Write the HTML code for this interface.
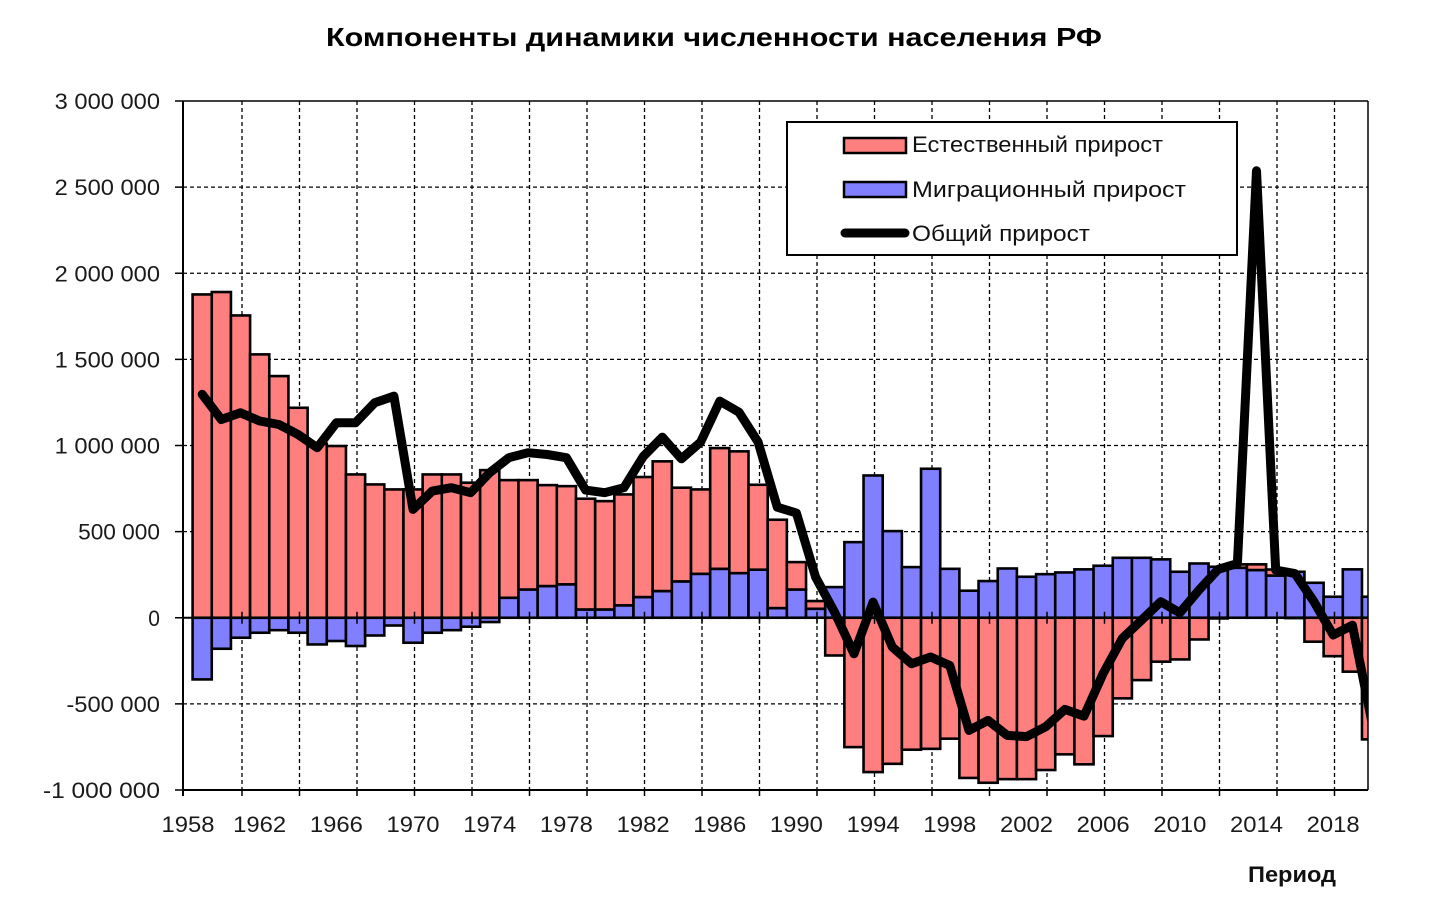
<!DOCTYPE html>
<html><head><meta charset="utf-8"><style>
html,body{margin:0;padding:0;background:#fff;}
svg{display:block;font-family:"Liberation Sans","DejaVu Sans",sans-serif;}
</style></head><body>
<svg id="c" width="1429" height="897" viewBox="0 0 1429 897" xmlns="http://www.w3.org/2000/svg">
<defs><clipPath id="pa"><rect x="183" y="101" width="1185" height="689"/></clipPath></defs>
<rect width="1429" height="897" fill="#fff"/>
<text x="714" y="46" text-anchor="middle" font-size="26" font-weight="bold" fill="#000" textLength="776" lengthAdjust="spacingAndGlyphs">Компоненты динамики численности населения РФ</text>
<g id="grid"></g>
<g id="bars" clip-path="url(#pa)"></g>
<g id="axes"></g>
<polyline id="ln" fill="none" stroke="#000" stroke-width="9" stroke-linejoin="round" stroke-linecap="round" clip-path="url(#pa)"/>
<g id="legend">
<rect x="787" y="122" width="450" height="133" fill="#fff" stroke="#000" stroke-width="2"/>
<rect x="844" y="138" width="62" height="15" fill="#ff7f7f" stroke="#000" stroke-width="2.5"/>
<rect x="844" y="182" width="62" height="15" fill="#7f7fff" stroke="#000" stroke-width="2.5"/>
<line x1="845" y1="233" x2="905" y2="233" stroke="#000" stroke-width="9" stroke-linecap="round"/>
<text x="912" y="152" font-size="22" fill="#111" textLength="251" lengthAdjust="spacingAndGlyphs">Естественный прирост</text>
<text x="912" y="197" font-size="22" fill="#111" textLength="274" lengthAdjust="spacingAndGlyphs">Миграционный прирост</text>
<text x="912" y="241" font-size="22" fill="#111" textLength="178" lengthAdjust="spacingAndGlyphs">Общий прирост</text>
</g>
<text x="1336" y="882" text-anchor="end" font-size="22" font-weight="bold" fill="#111" textLength="88" lengthAdjust="spacingAndGlyphs">Период</text>
</svg>
<script>
var NS="http://www.w3.org/2000/svg";
function el(p,t,a,txt){var e=document.createElementNS(NS,t);for(var k in a)e.setAttribute(k,a[k]);if(txt!==undefined)e.textContent=txt;p.appendChild(e);return e;}
var X0=183,X1=1368,Y0=101,Y1=790,ZERO=617.75,PX=172.25,STEP=19.17;
function yv(v){return ZERO-v*PX;}
function xc(yr){return X0+(yr-1958)*STEP;}
var nat={1959:1.877,1960:1.891,1961:1.755,1962:1.529,1963:1.403,1964:1.219,1965:1.01,1966:0.997,1967:0.832,1968:0.774,1969:0.745,1970:0.745,1971:0.832,1972:0.832,1973:0.784,1974:0.857,1975:0.799,1976:0.799,1977:0.770,1978:0.764,1979:0.691,1980:0.677,1981:0.716,1982:0.817,1983:0.908,1984:0.755,1985:0.745,1986:0.985,1987:0.966,1988:0.772,1989:0.569,1990:0.323,1991:0.097,1992:-0.219,1993:-0.751,1994:-0.896,1995:-0.848,1996:-0.766,1997:-0.761,1998:-0.702,1999:-0.930,2000:-0.958,2001:-0.937,2002:-0.937,2003:-0.884,2004:-0.793,2005:-0.851,2006:-0.687,2007:-0.468,2008:-0.362,2009:-0.255,2010:-0.242,2011:-0.126,2012:-0.004,2013:0.31,2014:0.31,2015:0.28,2016:-0.002,2017:-0.139,2018:-0.223,2019:-0.313,2020:-0.706};
var mig={1959:-0.358,1960:-0.18,1961:-0.116,1962:-0.087,1963:-0.072,1964:-0.087,1965:-0.155,1966:-0.135,1967:-0.164,1968:-0.103,1969:-0.045,1970:-0.145,1971:-0.087,1972:-0.072,1973:-0.052,1974:-0.025,1975:0.116,1976:0.164,1977:0.184,1978:0.194,1979:0.048,1980:0.048,1981:0.072,1982:0.12,1983:0.155,1984:0.211,1985:0.255,1986:0.284,1987:0.259,1988:0.279,1989:0.056,1990:0.164,1991:0.052,1992:0.178,1993:0.439,1994:0.826,1995:0.503,1996:0.294,1997:0.865,1998:0.284,1999:0.157,2000:0.213,2001:0.286,2002:0.238,2003:0.253,2004:0.263,2005:0.281,2006:0.302,2007:0.348,2008:0.348,2009:0.339,2010:0.267,2011:0.315,2012:0.296,2013:0.290,2014:0.277,2015:0.245,2016:0.267,2017:0.203,2018:0.122,2019:0.281,2020:0.122};
var tot={1959:1.297,1960:1.151,1961:1.19,1962:1.142,1963:1.122,1964:1.064,1965:0.987,1966:1.132,1967:1.132,1968:1.248,1969:1.287,1970:0.629,1971:0.735,1972:0.755,1973:0.726,1974:0.842,1975:0.929,1976:0.958,1977:0.948,1978:0.929,1979:0.741,1980:0.726,1981:0.755,1982:0.935,1983:1.049,1984:0.923,1985:1.02,1986:1.258,1987:1.194,1988:1.02,1989:0.642,1990:0.608,1991:0.236,1992:0.03,1993:-0.209,1994:0.091,1995:-0.17,1996:-0.267,1997:-0.228,1998:-0.277,1999:-0.654,2000:-0.596,2001:-0.683,2002:-0.69,2003:-0.633,2004:-0.532,2005:-0.571,2006:-0.323,2007:-0.12,2008:-0.014,2009:0.093,2010:0.029,2011:0.161,2012:0.281,2013:0.315,2014:2.595,2015:0.277,2016:0.257,2017:0.093,2018:-0.1,2019:-0.043,2020:-0.594};
var g=document.getElementById('grid'),b=document.getElementById('bars'),ax=document.getElementById('axes');
var labs=["3 000 000","2 500 000","2 000 000","1 500 000","1 000 000","500 000","0","-500 000","-1 000 000"];
for(var i=0;i<9;i++){var y=Y0+i*PX/2;
 if(i>0&&i<8)el(g,'line',{x1:X0,y1:y,x2:X1,y2:y,stroke:'#000','stroke-width':1.3,'stroke-dasharray':'4,3'});
 el(ax,'line',{x1:175,y1:y,x2:X0,y2:y,stroke:'#000','stroke-width':1.5});
 var L=labs[i],tl=L.length*11.7;
 el(ax,'text',{x:160,y:y+8,'text-anchor':'end','font-size':22,fill:'#1a1a1a',textLength:tl,lengthAdjust:'spacingAndGlyphs'},L);}
for(var x=242;x<X1;x+=57.5){el(g,'line',{x1:x,y1:Y0,x2:x,y2:Y1,stroke:'#000','stroke-width':1.3,'stroke-dasharray':'4,3'});
 el(ax,'line',{x1:x,y1:Y1,x2:x,y2:Y1+6,stroke:'#000','stroke-width':1.5});
 el(ax,'line',{x1:x,y1:ZERO-6,x2:x,y2:ZERO+6,stroke:'#000','stroke-width':1.5});}
for(var yr=1959;yr<=2020;yr++){var c=xc(yr),x0=c-9.58,w=19.17,m=mig[yr],n=nat[yr];
 var bb=Math.max(0,m);
 el(b,'rect',{x:x0,y:yv(bb),width:w,height:Math.abs(m)*PX,fill:'#7f7fff',stroke:'#000','stroke-width':2.6});
 if(m*n>0&&Math.abs(n)>Math.abs(m)){var lo=Math.min(m,n),hi=Math.max(m,n);el(b,'rect',{x:x0,y:yv(hi),width:w,height:(hi-lo)*PX,fill:'#ff7f7f',stroke:'#000','stroke-width':2.6});}
 else if(m*n<=0){var lo2=Math.min(0,n),hi2=Math.max(0,n);el(b,'rect',{x:x0,y:yv(hi2),width:w,height:(hi2-lo2)*PX,fill:'#ff7f7f',stroke:'#000','stroke-width':2.6});}
}
el(b,'line',{x1:X0,y1:ZERO,x2:X1,y2:ZERO,stroke:'#000','stroke-width':2});
el(ax,'line',{x1:X0,y1:Y0,x2:X1,y2:Y0,stroke:'#000','stroke-width':1.5});
el(ax,'line',{x1:X1,y1:Y0,x2:X1,y2:Y1,stroke:'#000','stroke-width':1.5});
el(ax,'line',{x1:X0,y1:Y0,x2:X0,y2:Y1+6,stroke:'#000','stroke-width':2});
el(ax,'line',{x1:X0,y1:Y1,x2:X1,y2:Y1,stroke:'#000','stroke-width':2});
for(var yl=1958;yl<=2018;yl+=4){el(ax,'text',{x:xc(yl)+(yl==1958?5:0),y:832,'text-anchor':'middle','font-size':22,fill:'#1a1a1a',textLength:53,lengthAdjust:'spacingAndGlyphs'},String(yl));}
var pts=[];for(var yr2=1959;yr2<=2020;yr2++)pts.push(xc(yr2).toFixed(1)+','+yv(tot[yr2]).toFixed(1));
document.getElementById('ln').setAttribute('points',pts.join(' '));
</script>
</body></html>
